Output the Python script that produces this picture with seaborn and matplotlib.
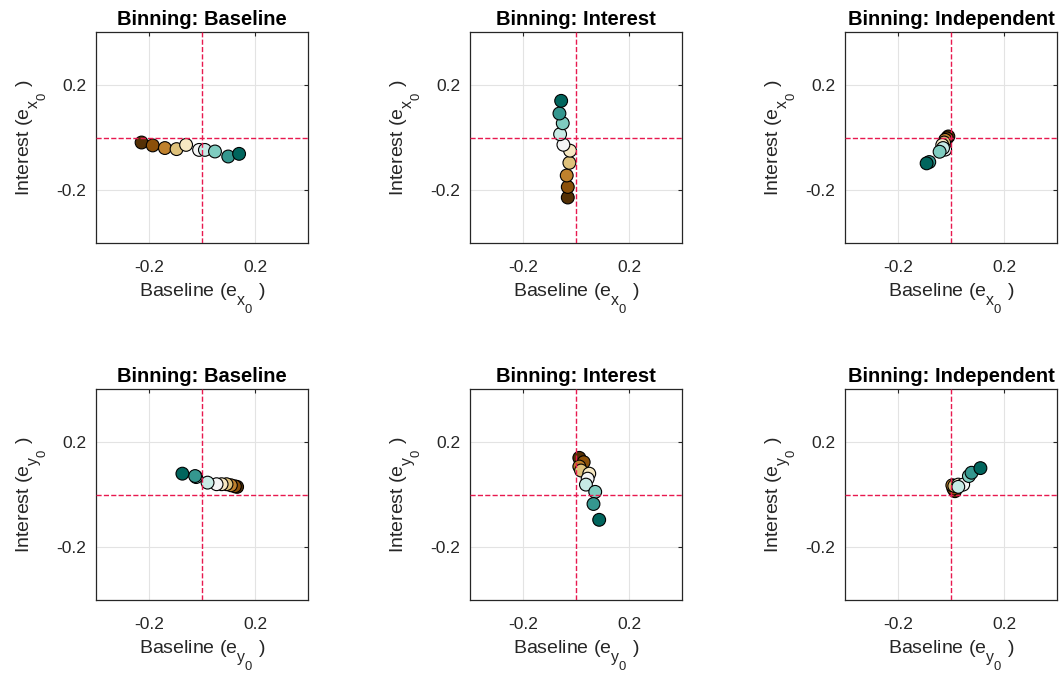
import numpy as np
import pandas as pd
import matplotlib
matplotlib.use("Agg")
import matplotlib.pyplot as plt
import seaborn as sns

# ---------------- data ----------------
bins = list(range(1, 11))
titles = ["Binning: Baseline", "Binning: Interest", "Binning: Independent"]
ticks = [-0.2, 0.2]

# row 1: e_x0
x0_baseline_bx = [-0.228, -0.186, -0.14, -0.096, -0.06, -0.011, 0.011, 0.049, 0.099, 0.14]
x0_baseline_iy = [-0.019, -0.03, -0.04, -0.044, -0.028, -0.047, -0.047, -0.053, -0.072, -0.062]
x0_interest_bx = [-0.031, -0.031, -0.035, -0.025, -0.0225, -0.0475, -0.06, -0.05, -0.0625, -0.056]
x0_interest_iy = [-0.2275, -0.1875, -0.144, -0.096, -0.05, -0.0275, 0.0125, 0.054, 0.091, 0.139]
x0_indep_bx = [-0.01, -0.016, -0.022, -0.026, -0.033, -0.022, -0.03, -0.043, -0.082, -0.092]
x0_indep_iy = [0.004, -0.003, -0.009, -0.019, -0.028, -0.046, -0.04, -0.054, -0.093, -0.098]

# row 2: e_y0
y0_baseline_bx = [0.1325, 0.124, 0.109, 0.0925, 0.074, 0.055, 0.021, -0.022, -0.026, -0.074]
y0_baseline_iy = [0.029, 0.031, 0.035, 0.039, 0.039, 0.039, 0.045, 0.066, 0.07, 0.079]
y0_interest_bx = [0.0125, 0.029, 0.0125, 0.019, 0.05, 0.044, 0.0375, 0.0725, 0.066, 0.0875]
y0_interest_iy = [0.139, 0.1225, 0.106, 0.091, 0.079, 0.06, 0.0375, 0.01, -0.036, -0.096]
y0_indep_bx = [0.015, 0.009, 0.005, 0.0125, 0.0275, 0.046, 0.0275, 0.0675, 0.0775, 0.111]
y0_indep_iy = [0.0125, 0.0225, 0.035, 0.0325, 0.0375, 0.0375, 0.029, 0.07, 0.0825, 0.1]

panels = [
    [(x0_baseline_bx, x0_baseline_iy), (x0_interest_bx, x0_interest_iy), (x0_indep_bx, x0_indep_iy)],
    [(y0_baseline_bx, y0_baseline_iy), (y0_interest_bx, y0_interest_iy), (y0_indep_bx, y0_indep_iy)],
]
subs = ["x", "y"]

# ---------------- style ----------------
sns.set_style("white")
plt.rcParams["font.family"] = ["Liberation Sans", "DejaVu Sans"]
plt.rcParams["mathtext.fontset"] = "custom"
plt.rcParams["mathtext.rm"] = "Liberation Sans"
plt.rcParams["mathtext.it"] = "Liberation Sans"
plt.rcParams["mathtext.bf"] = "Liberation Sans:bold"

# MATLAB-like TeX subscripts: larger and lower
try:
    import matplotlib._mathtext as _mt
    _mt.SHRINK_FACTOR = 0.82
    _mt.FontConstantsBase.sub1 = 0.95
except Exception:
    pass

cmap = plt.get_cmap("BrBG")
palette = [cmap(v) for v in np.linspace(0, 0.9, 10)]
txt = "#262626"

fig = plt.figure(figsize=(10.62, 6.77), dpi=100)
lefts = [96 / 1062, 470 / 1062, 845 / 1062]
bottoms = [1 - 243 / 677, 1 - 600 / 677]
w = 212 / 1062
h = 211 / 677

for r in range(2):
    for c in range(3):
        ax = fig.add_axes([lefts[c], bottoms[r], w, h])
        bx, iy = panels[r][c]
        df = pd.DataFrame({"Baseline": bx, "Interest": iy, "bin": bins})
        sns.scatterplot(data=df, x="Baseline", y="Interest", hue="bin",
                        palette=palette, s=85, edgecolor="black", linewidth=0.8,
                        legend=False, ax=ax, zorder=3)
        ax.axvline(0, color="#e8194f", ls="--", lw=1.0, zorder=4)
        ax.axhline(0, color="#e8194f", ls="--", lw=1.0, zorder=4)
        ax.set_xlim(-0.4, 0.4)
        ax.set_ylim(-0.4, 0.4)
        ax.set_xticks(ticks)
        ax.set_yticks(ticks)
        ax.set_xticklabels(["-0.2", "0.2"])
        ax.set_yticklabels(["-0.2", "0.2"])
        ax.grid(True, color="#e3e3e3", lw=0.8, zorder=0)
        ax.set_axisbelow(True)
        ax.tick_params(direction="in", length=3, width=0.8, top=True, right=True,
                       labelsize=12.5, colors=txt)
        ax.tick_params(axis="x", pad=12)
        ax.tick_params(axis="y", pad=7)
        for sp in ax.spines.values():
            sp.set_color(txt)
            sp.set_linewidth(0.9)
            sp.set_visible(True)
        s = subs[r]
        ax.set_xlabel(r"Baseline (e$_{" + s + r"_0}$ )", fontsize=14, color=txt, labelpad=5)
        ax.set_ylabel(r"Interest (e$_{" + s + r"_0}$ )", fontsize=14, color=txt, labelpad=5)
        ax.set_title(titles[c], fontsize=14.5, fontweight="bold", color="black", pad=5)

fig.savefig("out.png", dpi=100)
